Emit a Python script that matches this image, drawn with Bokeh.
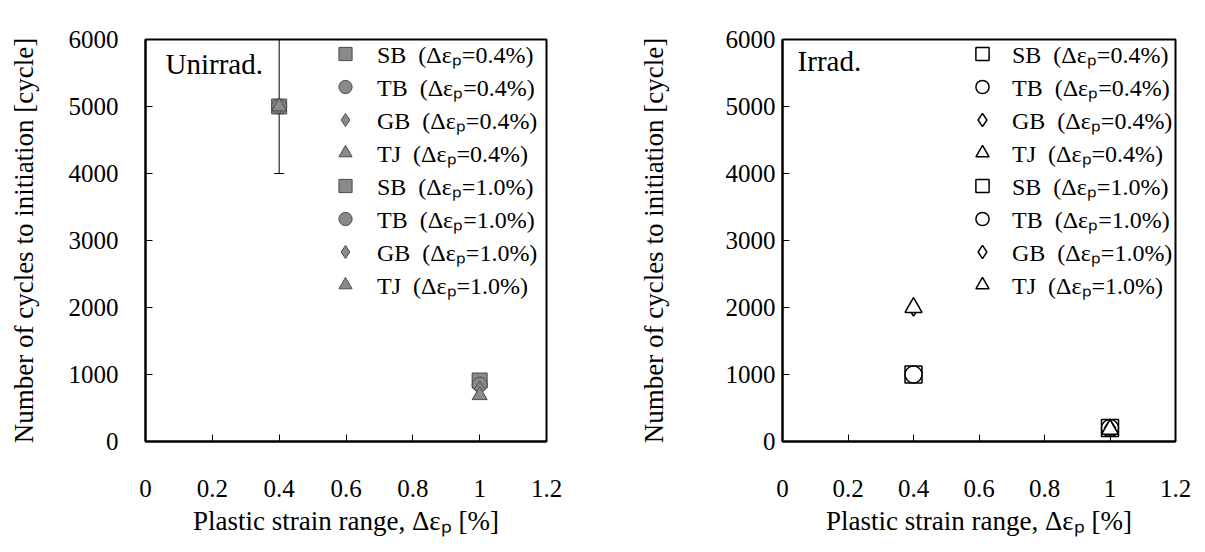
from bokeh.plotting import figure
from bokeh.layouts import row
from bokeh.models import ColumnDataSource, Whisker, TeeHead, Label, Legend, LegendItem
from bokeh.embed import file_html
from bokeh.resources import INLINE

# ---------------- data ----------------
types = ["SB", "TB", "GB", "TJ"]
markers = ["square", "circle", "diamond", "triangle"]
strains = [0.4, 1.0]
strain_labels = ["0.4%", "1.0%"]

# Unirradiated: cycles to initiation for [SB, TB, GB, TJ]
unirr_04 = [5000, 5000, 5000, 5000]
unirr_10 = [910, 850, 790, 690]
unirr_err_x = [0.4]
unirr_err_center = [5000]
unirr_err = [1000]

# Irradiated
irr_04 = [1000, 1000, 2000, 2000]
irr_10 = [200, 200, 200, 180]

x_ticks = [0, 0.2, 0.4, 0.6, 0.8, 1.0, 1.2]
y_ticks = [0, 1000, 2000, 3000, 4000, 5000, 6000]

FONT = "Liberation Serif"
NB = "\u00a0"


def make_fig(width, height, bl, br, bt, bb, y_label_standoff, y_title_standoff):
    p = figure(width=width, height=height, x_range=(0, 1.2), y_range=(0, 6000),
               output_backend="svg", toolbar_location=None,
               min_border_left=bl, min_border_right=br,
               min_border_top=bt, min_border_bottom=bb)
    p.xgrid.visible = False
    p.ygrid.visible = False
    p.outline_line_color = "black"
    p.outline_line_width = 2
    p.background_fill_color = "white"
    p.border_fill_color = "white"
    for ax in (p.xaxis[0], p.yaxis[0]):
        ax.major_label_text_font = FONT
        ax.major_label_text_font_size = "25px"
        ax.major_label_text_color = "black"
        ax.axis_label_text_font = FONT
        ax.axis_label_text_font_size = "27px"
        ax.axis_label_text_font_style = "normal"
        ax.axis_label_text_color = "black"
        ax.major_tick_in = 7
        ax.major_tick_out = 0
        ax.minor_tick_line_color = None
        ax.axis_line_color = "black"
        ax.axis_line_width = 2
        ax.major_tick_line_color = "black"
    p.xaxis.ticker = x_ticks
    p.xaxis.major_label_overrides = {0: "0", 0.2: "0.2", 0.4: "0.4", 0.6: "0.6",
                                     0.8: "0.8", 1.0: "1", 1.2: "1.2"}
    p.yaxis.ticker = y_ticks
    p.xaxis.axis_label = "Plastic strain range, Δεₚ [%]"
    p.yaxis.axis_label = "Number of cycles to initiation [cycle]"
    p.xaxis.major_label_standoff = 38
    p.xaxis.axis_label_standoff = 6
    p.yaxis.major_label_standoff = y_label_standoff
    p.yaxis.axis_label_standoff = y_title_standoff
    return p


def add_points(p, vals04, vals10, fill, line, size, lw, loc, standoff):
    items = []
    for s_i, (strain, vals) in enumerate(zip(strains, [vals04, vals10])):
        for t_i, t in enumerate(types):
            src = ColumnDataSource(dict(x=[strain], y=[vals[t_i]]))
            r = p.scatter("x", "y", source=src, marker=markers[t_i], size=size,
                          fill_color=fill, line_color=line, line_width=lw)
            items.append(LegendItem(label=f"{t}{NB}{NB}(Δεₚ={strain_labels[s_i]})",
                                    renderers=[r]))
    leg = Legend(items=items, location=loc)
    leg.label_text_font = FONT
    leg.label_text_font_size = "24px"
    leg.label_text_color = "black"
    leg.border_line_color = None
    leg.background_fill_alpha = 0
    leg.glyph_height = 33
    leg.glyph_width = 36
    leg.label_height = 33
    leg.spacing = 0
    leg.label_standoff = standoff
    leg.padding = 0
    leg.margin = 0
    p.add_layout(leg)


# ---------- left: unirradiated ----------
p1 = make_fig(604, 550, 145, 58, 37, 109, 27, 27)
err_src = ColumnDataSource(dict(
    x=unirr_err_x,
    upper=[c + e for c, e in zip(unirr_err_center, unirr_err)],
    lower=[c - e for c, e in zip(unirr_err_center, unirr_err)]))
wh = Whisker(base="x", upper="upper", lower="lower", source=err_src,
             line_color="black", line_width=1,
             upper_head=TeeHead(size=10, line_color="black", line_width=1),
             lower_head=TeeHead(size=10, line_color="black", line_width=1))
p1.add_layout(wh)
add_points(p1, unirr_04, unirr_10, "#8a8a8a", "#4a4a4a", 15, 1, (182, 140), 14)
p1.add_layout(Label(x=0.06, y=5880, text="Unirrad.", text_font=FONT,
                    text_font_size="29px", text_baseline="top", text_color="black"))

# ---------- right: irradiated ----------
p2 = make_fig(596, 550, 178, 25, 39, 109, 7, 54)
add_points(p2, irr_04, irr_10, "white", "black", 17, 1.5, (182, 140), 12)
p2.add_layout(Label(x=0.046, y=5920, text="Irrad.", text_font=FONT,
                    text_font_size="29px", text_baseline="top", text_color="black"))

layout = row(p1, p2)
open("out.html", "w").write(file_html(layout, INLINE))
